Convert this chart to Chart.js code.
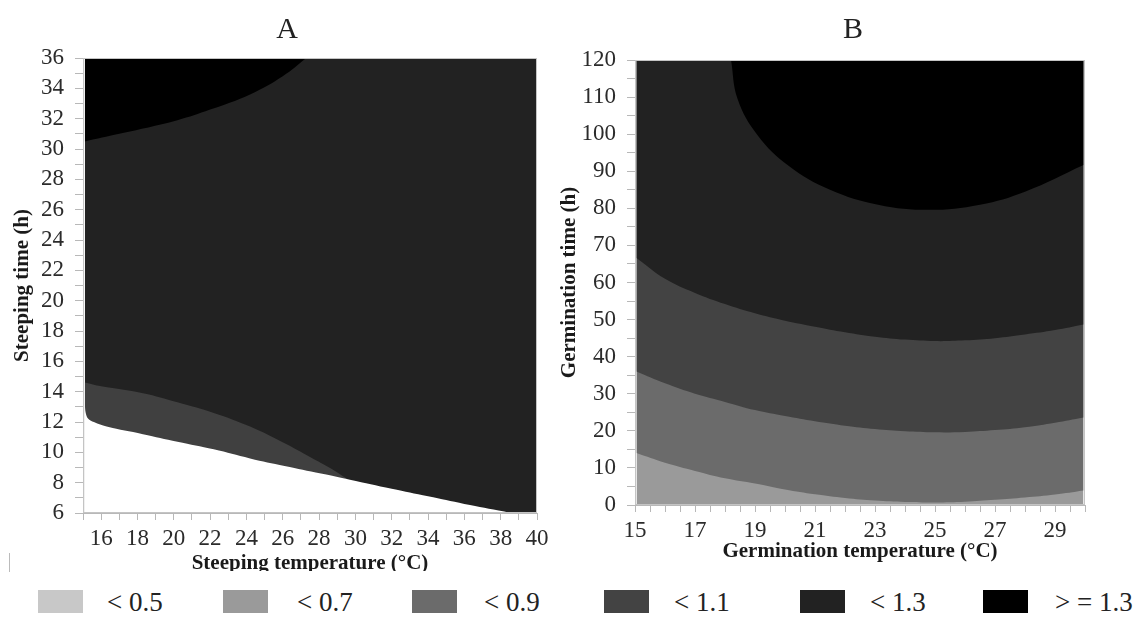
<!DOCTYPE html>
<html>
<head>
<meta charset="utf-8">
<script src="https://cdn.jsdelivr.net/npm/chart.js@4.4.0/dist/chart.umd.min.js"></script>
<style>
  body { margin: 0; width: 1137px; height: 619px; overflow: hidden; background: #fff; position: relative; font-family: "Liberation Serif", serif; }
  #chartA { position: absolute; left: 0; top: 0; }
  #chartB { position: absolute; left: 560px; top: 0; }
  .key-box { position: absolute; top: 590px; width: 45px; height: 23px; }
  .key-text { position: absolute; top: 586px; font-size: 27px; line-height: 32px; color: #222; white-space: nowrap; }
  #mark { position: absolute; left: 9px; top: 553px; width: 1px; height: 19px; background: #bbb; }
</style>
</head>
<body>
<canvas id="chartA" width="574" height="571"></canvas>
<canvas id="chartB" width="586" height="571"></canvas>
<div id="mark"></div>
<div id="key"></div>
<script>
// legend levels
const keyLabels = ['< 0.5', '< 0.7', '< 0.9', '< 1.1', '< 1.3', '> = 1.3'];
const keyColors = ['#c8c8c8', '#9a9a9a', '#6b6b6b', '#434343', '#222222', '#000000'];

// A: steeping temperature (°C) vs steeping time (h)
const aTempTicks = [16, 18, 20, 22, 24, 26, 28, 30, 32, 34, 36, 38, 40];
const aTimeTicks = [6, 8, 10, 12, 14, 16, 18, 20, 22, 24, 26, 28, 30, 32, 34, 36];
const aDomainTemp = [15.1, 40];
const aDomainTime = [36, 36];
const aLowerTemp = [15.1, 15.15, 15.3, 15.6, 16.3, 18.3, 20.2, 22.2, 24.2, 26.1, 28.1, 29.7, 32, 34, 36, 38.2, 38.6, 40];
const aLowerTime = [13.2, 12.6, 12.2, 12.0, 11.7, 11.2, 10.7, 10.2, 9.6, 9.1, 8.6, 8.2, 7.6, 7.1, 6.6, 6.1, 6, 6];
const aGrayTemp = [15.1, 16, 18.3, 20.2, 22.2, 24.2, 26.1, 27.5, 28.7, 29.6];
const aGrayTime = [14.6, 14.35, 13.9, 13.3, 12.6, 11.7, 10.6, 9.7, 8.9, 8.2];
const aBlackTemp = [15.1, 17, 20.2, 22, 24.2, 26, 27.3];
const aBlackTime = [30.5, 31, 31.9, 32.6, 33.6, 34.8, 36];

// B: germination temperature (°C) vs germination time (h)
const bTempTicks = [15, 17, 19, 21, 23, 25, 27, 29];
const bTimeTicks = [0, 10, 20, 30, 40, 50, 60, 70, 80, 90, 100, 110, 120];
const bDomainTemp = [15.05, 29.95];
const bDomainTime = [120, 120];
const bBandTemp = [15.05, 16, 17, 18, 19, 20, 21, 22, 23, 24, 25, 26, 27, 28, 29, 29.95];
const bTime07 = [14, 11.4, 9.2, 7.2, 5.8, 4.2, 2.9, 1.9, 1.2, 0.8, 0.7, 0.9, 1.4, 2, 2.8, 3.9];
const bTime09 = [36, 32.8, 30, 27.8, 25.6, 24, 22.6, 21.4, 20.5, 19.9, 19.6, 19.7, 20.2, 21, 22.2, 23.6];
const bTime11 = [66.6, 61, 57.2, 54.2, 51.7, 49.7, 48.1, 46.6, 45.4, 44.6, 44.2, 44.4, 45, 46, 47.2, 48.7];
const bTemp13 = [18.2, 18.42, 19.08, 20.13, 21.5, 23.1, 24.8, 26.5, 28, 29.95];
const bTime13 = [120, 109.5, 99.8, 91.4, 85, 81, 79.6, 81, 84.5, 91.7];

const serif = 'Liberation Serif';
const axisGray = '#b8b8b8';

function layer(xs, ys, color, fill, order) {
  return {
    data: xs.map((x, i) => ({ x: x, y: ys[i] })),
    backgroundColor: color,
    borderWidth: 0,
    pointRadius: 0,
    fill: fill,
    order: order,
    tension: 0.4
  };
}

function xAxis(min, max, step, labels, title, height, titlePad) {
  return {
    type: 'linear', min: min, max: max, z: 1,
    afterFit: s => { s.height = height; },
    ticks: {
      stepSize: step, autoSkip: false, maxRotation: 0, padding: 5,
      color: '#2b2b2b', font: { family: serif, size: 23 },
      callback: v => labels.includes(v) ? String(v) : ''
    },
    grid: { drawOnChartArea: false, tickLength: 7, tickColor: axisGray },
    border: { color: axisGray },
    title: {
      display: true, text: title, color: '#1a1a1a',
      font: { family: serif, size: 21, weight: 'bold', lineHeight: 0.76 },
      padding: { top: 0, bottom: titlePad }
    }
  };
}

function yAxis(min, max, step, labels, title, width, titlePad) {
  return {
    type: 'linear', min: min, max: max, z: 1,
    afterFit: s => { s.width = width; },
    ticks: {
      stepSize: step, autoSkip: false, padding: 11,
      color: '#2b2b2b', font: { family: serif, size: 23 },
      callback: v => labels.includes(v) ? String(v) : ''
    },
    grid: { drawOnChartArea: false, tickLength: 8, tickColor: axisGray },
    border: { color: axisGray },
    title: {
      display: true, text: title, color: '#1a1a1a',
      font: { family: serif, size: 21, weight: 'bold', lineHeight: 0.76 },
      padding: { top: titlePad, bottom: 0 }
    }
  };
}

// empty right-hand axis, only to reserve the margin so the panel title stays centred on the canvas
function spacer(width) {
  return {
    type: 'linear', position: 'right', display: true,
    afterFit: s => { s.width = width; },
    ticks: { display: false },
    grid: { display: false, drawTicks: false },
    border: { display: false }
  };
}

const frame = {
  id: 'frame',
  afterDatasetsDraw(chart) {
    const { ctx, chartArea: a } = chart;
    ctx.save();
    ctx.strokeStyle = '#c4c4c4';
    ctx.lineWidth = 1;
    ctx.strokeRect(a.left + 0.5, a.top + 0.5, a.width - 1, a.height - 1);
    ctx.restore();
  }
};

function titleOpts(text, padTop, padBottom) {
  return {
    display: true, text: text, color: '#222',
    font: { family: serif, size: 30, weight: 'normal', lineHeight: 1 },
    padding: { top: padTop, bottom: padBottom }
  };
}

new Chart(document.getElementById('chartA'), {
  type: 'line',
  data: {
    datasets: [
      layer(aDomainTemp, aDomainTime, '#222222', 'start', 5),
      layer(aGrayTemp, aGrayTime, '#404040', 'start', 4),
      layer(aLowerTemp, aLowerTime, '#ffffff', 'start', 3),
      layer(aBlackTemp, aBlackTime, '#000000', 'end', 2)
    ]
  },
  options: {
    responsive: false,
    animation: false,
    layout: { padding: 0 },
    scales: {
      x: xAxis(15, 40, 1, aTempTicks, 'Steeping temperature (°C)', 58, -1),
      y: yAxis(6, 36, 1, aTimeTicks, 'Steeping time (h)', 83, 15),
      yRight: spacer(37)
    },
    plugins: {
      title: titleOpts('A', 15, 13),
      legend: { display: false },
      tooltip: { enabled: false }
    }
  },
  plugins: [frame]
});

new Chart(document.getElementById('chartB'), {
  type: 'line',
  data: {
    datasets: [
      layer(bDomainTemp, bDomainTime, keyColors[1], 'start', 6),
      layer(bBandTemp, bTime07, keyColors[2], 'end', 5),
      layer(bBandTemp, bTime09, keyColors[3], 'end', 4),
      layer(bBandTemp, bTime11, keyColors[4], 'end', 3),
      layer(bTemp13, bTime13, keyColors[5], 'end', 2)
    ]
  },
  options: {
    responsive: false,
    animation: false,
    layout: { padding: 0 },
    scales: {
      x: xAxis(15, 30, 0.5, bTempTicks, 'Germination temperature (°C)', 66, 11),
      y: yAxis(0, 120, 5, bTimeTicks, 'Germination time (h)', 75, 2),
      yRight: spacer(61)
    },
    plugins: {
      title: titleOpts('B', 15, 15),
      legend: { display: false },
      tooltip: { enabled: false }
    }
  },
  plugins: [frame]
});

// shared legend below both panels
const boxLeft = [38, 223, 412, 604, 800, 983];
const textLeft = [107, 297, 484, 674, 870, 1055];
const key = document.getElementById('key');
keyLabels.forEach((label, i) => {
  const box = document.createElement('div');
  box.className = 'key-box';
  box.style.left = boxLeft[i] + 'px';
  box.style.background = keyColors[i];
  key.appendChild(box);
  const txt = document.createElement('div');
  txt.className = 'key-text';
  txt.style.left = textLeft[i] + 'px';
  txt.textContent = label;
  key.appendChild(txt);
});
</script>
</body>
</html>
